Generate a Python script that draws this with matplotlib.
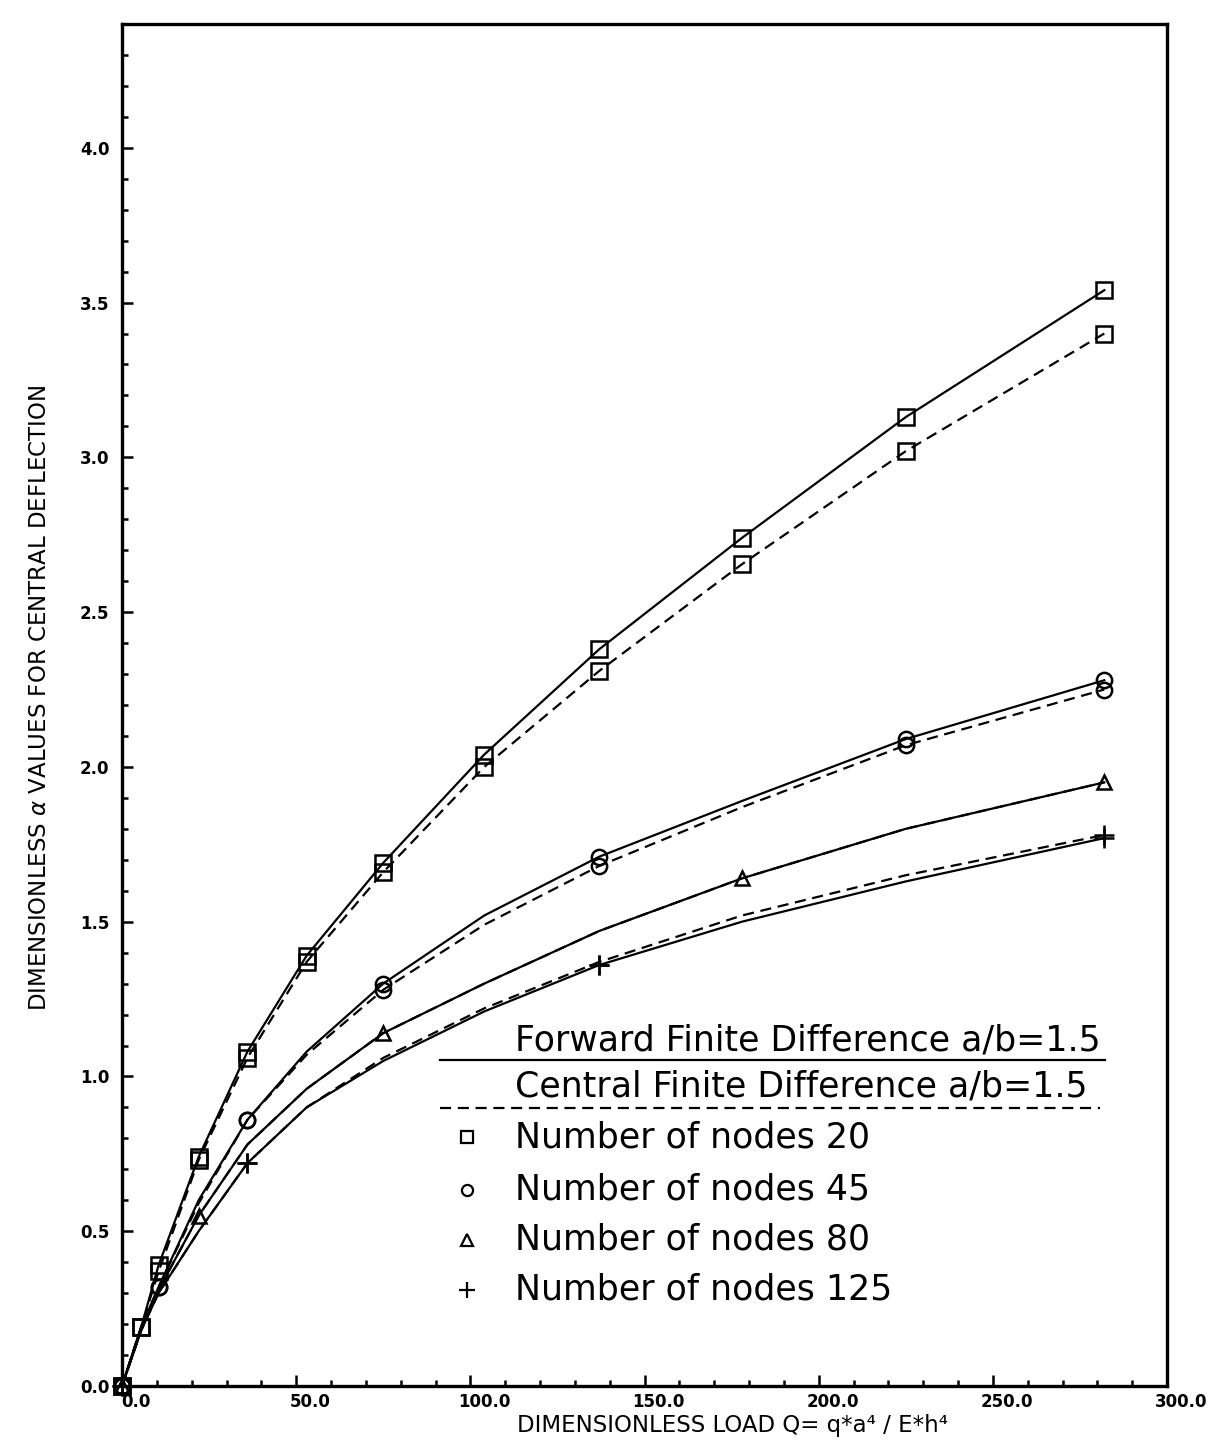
import numpy as np
import matplotlib.pyplot as plt
from matplotlib.lines import Line2D
from matplotlib.ticker import MultipleLocator, FormatStrFormatter
import matplotlib.transforms as mtransforms

# load values Q where markers sit
q20 = [0, 5.5, 10.5, 22, 36, 53, 75, 104, 137, 178, 225, 282]
sq_fwd = [0, 0.19, 0.39, 0.74, 1.08, 1.39, 1.69, 2.04, 2.38, 2.74, 3.13, 3.54]
sq_cen = [0, 0.19, 0.37, 0.73, 1.06, 1.37, 1.66, 2.00, 2.31, 2.655, 3.02, 3.40]

q45 = [0, 10.5, 36, 75, 137, 225, 282]
ci_fwd = [0, 0.32, 0.86, 1.30, 1.71, 2.09, 2.28]
ci_cen = [0, 0.32, 0.86, 1.28, 1.68, 2.07, 2.25]

q80 = [0, 22, 75, 178, 282]
tr_fwd = [0, 0.55, 1.14, 1.64, 1.95]

q125 = [0, 36, 137, 282]
pl_fwd = [0, 0.72, 1.36, 1.77]
pl_cen = [0, 0.72, 1.36, 1.78]

# points along the drawn curves
q_line = [0, 5.5, 10.5, 22, 36, 53, 75, 104, 137, 178, 225, 282]
ci_line_fwd = [0, 0.19, 0.32, 0.60, 0.86, 1.08, 1.30, 1.52, 1.71, 1.89, 2.09, 2.28]
ci_line_cen = [0, 0.19, 0.32, 0.59, 0.86, 1.07, 1.28, 1.49, 1.68, 1.87, 2.07, 2.25]
tr_line_fwd = [0, 0.18, 0.31, 0.55, 0.78, 0.96, 1.14, 1.30, 1.47, 1.64, 1.80, 1.95]
tr_line_cen = [0, 0.18, 0.31, 0.55, 0.78, 0.96, 1.14, 1.30, 1.47, 1.64, 1.80, 1.95]
pl_line_fwd = [0, 0.18, 0.30, 0.50, 0.72, 0.90, 1.05, 1.21, 1.36, 1.50, 1.63, 1.77]
pl_line_cen = [0, 0.18, 0.30, 0.50, 0.72, 0.90, 1.06, 1.22, 1.37, 1.52, 1.65, 1.78]

legend_names = ['Number of nodes 20', 'Number of nodes 45',
                'Number of nodes 80', 'Number of nodes 125']

W, H = 1220, 1442
fig = plt.figure(figsize=(W / 100, H / 100), dpi=100)
ax = fig.add_axes([122 / W, 1 - 1386 / H, (1167 - 122) / W, (1386 - 24) / H])

lw = 1.6
dash = (0, (5, 3))
k = dict(color='black', lw=lw)

# curves
ax.plot(q20, sq_fwd, **k)
ax.plot(q20, sq_cen, ls=dash, **k)
ax.plot(q_line, ci_line_fwd, **k)
ax.plot(q_line, ci_line_cen, ls=dash, **k)
ax.plot(q_line, tr_line_fwd, **k)
ax.plot(q_line, tr_line_cen, ls=dash, **k)
ax.plot(q_line, pl_line_fwd, **k)
ax.plot(q_line, pl_line_cen, ls=dash, **k)

# markers
mk = dict(ls='none', mfc='none', mec='black', mew=1.8, clip_on=False)
ax.plot(q20, sq_fwd, marker='s', ms=11, **mk)
ax.plot(q20, sq_cen, marker='s', ms=11, **mk)
ax.plot(q45, ci_fwd, marker='o', ms=11, **mk)
ax.plot(q45, ci_cen, marker='o', ms=11, **mk)
ax.plot(q80, tr_fwd, marker='^', ms=10, **mk)
ax.plot(q125, pl_fwd, marker='+', ms=14, **mk)
ax.plot(q125, pl_cen, marker='+', ms=14, **mk)

ax.set_xlim(0, 300)
ax.set_ylim(0, 4.4)
ax.xaxis.set_major_locator(MultipleLocator(50))
ax.xaxis.set_minor_locator(MultipleLocator(10))
ax.yaxis.set_major_locator(MultipleLocator(0.5))
ax.yaxis.set_minor_locator(MultipleLocator(0.1))
ax.xaxis.set_major_formatter(FormatStrFormatter('%.1f'))
ax.yaxis.set_major_formatter(FormatStrFormatter('%.1f'))
ax.tick_params(which='both', direction='in', top=False, right=False, width=1.8)
ax.tick_params(which='major', length=8, labelsize=12)
ax.tick_params(axis='y', which='major', pad=9)
ax.tick_params(axis='x', which='major', pad=5)
ax.tick_params(which='minor', length=4)
for lab in ax.get_xticklabels() + ax.get_yticklabels():
    lab.set_fontweight('bold')
off = mtransforms.ScaledTranslation(14 / 100, 0, fig.dpi_scale_trans)
for lab in ax.get_xticklabels():
    lab.set_transform(lab.get_transform() + off)
for s in ax.spines.values():
    s.set_linewidth(2.4)

ax.set_xlabel('DIMENSIONLESS LOAD Q= q*a\u2074 / E*h\u2074', fontsize=16.5)
ax.xaxis.set_label_coords(0.584, -0.0205)
ax.set_ylabel(r'DIMENSIONLESS $\alpha$ VALUES FOR CENTRAL DEFLECTION', fontsize=16.5)
ax.yaxis.set_label_coords(-0.068, 0.505)

# legend block drawn by hand, figure pixel positions
def fx(px):
    return px / W

def fy(py):
    return 1 - py / H

lf = dict(fontsize=25, ha='left', va='center')
fig.text(fx(515), fy(1040), 'Forward Finite Difference a/b=1.5', **lf)
fig.add_artist(Line2D([fx(440), fx(1105)], [fy(1060), fy(1060)], color='black', lw=1.6))
fig.text(fx(515), fy(1086), 'Central Finite Difference a/b=1.5', **lf)
fig.add_artist(Line2D([fx(440), fx(1100)], [fy(1108), fy(1108)], color='black', lw=1.6, ls=dash))

leg_marks = ['s', 'o', '^', '+']
leg_y = [1137, 1190, 1240, 1290]
for m, yy, name in zip(leg_marks, leg_y, legend_names):
    fig.add_artist(Line2D([fx(467)], [fy(yy)], marker=m, ms=8 if m != '+' else 11,
                          mfc='none', mec='black', mew=1.6, ls='none'))
    fig.text(fx(515), fy(yy), name, **lf)

fig.savefig('out.png', dpi=100)
